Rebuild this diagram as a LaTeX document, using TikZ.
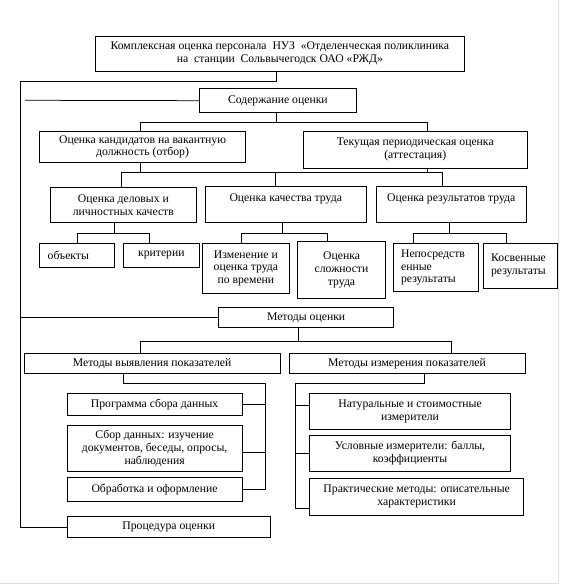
\documentclass[tikz,border=0pt]{standalone}
\usepackage{fontspec}
\setmainfont{Liberation Serif}
\usetikzlibrary{positioning}

\begin{document}
\begin{tikzpicture}[x=1pt,y=-1pt,
  blk/.style={draw, line width=0.75pt, inner sep=1pt, align=center, anchor=north west,
    font=\fontsize{11.7}{12.8}\selectfont},
  lblk/.style={blk, align=left, inner xsep=8pt},
  wire/.style={line width=0.75pt}]
  \useasboundingbox (0,0) rectangle (563,585);
  % page frame
  \draw[gray!25] (558,0) -- (558,583) -- (0,583);

  % boxes
  \node[blk, minimum width=369pt, minimum height=34.7pt] (top) at (95,36)
    {Комплексная оценка персонала\ \ НУЗ\ \ «Отделенческая поликлиника\\на\ \ станции\ \ Сольвычегодск ОАО «РЖД»};
  \node[blk, minimum width=157pt, minimum height=24pt] (content) at (199,88.3) {Содержание оценки};
  \node[blk, minimum width=205.7pt, minimum height=31pt] (cand) at (39.3,131)
    {Оценка кандидатов на вакантную\\должность (отбор)};
  \node[blk, minimum width=224.3pt, minimum height=36.7pt] (curr) at (302.7,131)
    {Текущая периодическая оценка\\(аттестация)};
  \node[blk, minimum width=146pt, minimum height=35.6pt] (biz) at (50,186.7)
    {Оценка деловых и\\личностных качеств};
  \node[blk, minimum width=160.7pt, minimum height=36.3pt] (qual) at (205,186)
    {Оценка качества труда\\\mbox{}};
  \node[blk, minimum width=149.7pt, minimum height=35.7pt] (res) at (376,186)
    {Оценка результатов труда\\\mbox{}};
  \node[lblk, text width=59pt, minimum height=24.6pt] (obj) at (39.3,242.7) {объекты};
  \node[blk, minimum width=76.6pt, minimum height=24.6pt] (crit) at (122.7,242.7) {критерии};
  \node[blk, minimum width=87.6pt, minimum height=50.3pt] (time) at (201.7,242.7)
    {Изменение и\\оценка труда\\по времени};
  \node[blk, minimum width=87.7pt, minimum height=57.6pt] (compl) at (297.3,240.7)
    {Оценка\\сложности\\труда};
  \node[lblk, text width=69pt, minimum height=47.7pt] (direct) at (392.7,243.3)
    {Непосредств\\енные\\результаты};
  \node[lblk, text width=58.3pt, minimum height=45pt] (indirect) at (482.7,242.7)
    {Косвенные\\результаты};
  \node[blk, minimum width=174.9pt, minimum height=20pt] (methods) at (218.3,307.3) {Методы оценки};
  \node[blk, minimum width=255.5pt, minimum height=20pt] (reveal) at (24,353.3)
    {Методы выявления показателей};
  \node[blk, minimum width=235.7pt, minimum height=20pt] (measure) at (288.8,353.3)
    {Методы измерения показателей};
  \node[blk, minimum width=175pt, minimum height=22.3pt] (prog) at (66.7,392.7) {Программа сбора данных};
  \node[blk, minimum width=175pt, minimum height=45.7pt] (collect) at (66.7,425)
    {Сбор данных: изучение\\документов, беседы, опросы,\\наблюдения};
  \node[blk, minimum width=175pt, minimum height=23.4pt] (proc) at (66.7,477.3) {Обработка и оформление};
  \node[blk, minimum width=200.7pt, minimum height=36pt] (natural) at (309.3,393.3)
    {Натуральные и стоимостные\\измерители};
  \node[blk, minimum width=200.7pt, minimum height=35.7pt] (cond) at (309.3,435)
    {Условные измерители: баллы,\\коэффициенты};
  \node[blk, minimum width=214pt, minimum height=37.3pt] (pract) at (309.3,477.7)
    {Практические методы: описательные\\характеристики};
  \node[blk, minimum width=203.3pt, minimum height=21.3pt] (proced) at (66.7,516) {Процедура оценки};

  % left spine
  \coordinate (spine) at (20.7,81.7);
  \coordinate (cleft) at (25,100.3);
  \draw[wire] ([xshift=-3.8pt]top.south) |- (spine) |- (proced.west);
  \draw[wire] (content.west) -- (cleft);
  \draw[wire] (methods.west) -- (methods.west -| spine);

  % content of the assessment
  \draw[wire] ([xshift=-1.8pt]content.south) -- ++(0,9.4) coordinate (j1);
  \draw[wire] ([xshift=-2.2pt]cand.north) |- (j1) -| ([xshift=11.9pt]curr.north);
  \draw[wire] ([xshift=-2.2pt]cand.south) -- ++(0,10.7);
  \draw[wire] ([xshift=11.9pt]curr.south) -- ++(0,5);
  \draw[wire] ([xshift=-2.3pt]biz.north) -- ++(0,-14) -| ([xshift=-9.2pt]res.north);
  \draw[wire] ([xshift=-10.4pt]qual.north) -- ++(0,-13.3);
  \draw[wire] ([xshift=-8.7pt]biz.south) -- ++(0,11);
  \draw[wire] (obj.north) -- ++(0,-9.4) -| ([xshift=-11.7pt]crit.north);
  \draw[wire] ([xshift=-3.7pt]qual.south) -- ++(0,11);
  \draw[wire] ([xshift=-4.8pt]time.north) -- ++(0,-9.4) -| ([xshift=-14.5pt]compl.north);
  \draw[wire] ([xshift=-1.9pt]res.south) -- ++(0,11.6);
  \draw[wire] ([xshift=-22.5pt]direct.north) -- ++(0,-10) -| ([xshift=-13.7pt]indirect.north);

  % methods
  \draw[wire] ([xshift=-8pt]methods.south) -- ++(0,13.7);
  \draw[wire] ([xshift=-11.75pt]reveal.north) -- ++(0,-12.3) -| ([xshift=44.75pt]measure.north);
  \coordinate (rbus) at (265,383.3);
  \coordinate (mbus) at (295,383.3);
  \draw[wire] ([xshift=-28.4pt]reveal.south) |- (rbus) |- (proc.east);
  \draw[wire] (prog.east) -- (prog.east -| rbus);
  \draw[wire] ([yshift=-3.9pt]collect.east) -- ([yshift=-3.9pt]collect.east -| rbus);
  \draw[wire] ([xshift=17.35pt]measure.south) |- (mbus) |- ([yshift=-11.7pt]pract.west);
  \draw[wire] ([yshift=6.3pt]natural.west) -- ([yshift=6.3pt]natural.west -| mbus);
  \draw[wire] (cond.west) -- (cond.west -| mbus);
\end{tikzpicture}
\end{document}
